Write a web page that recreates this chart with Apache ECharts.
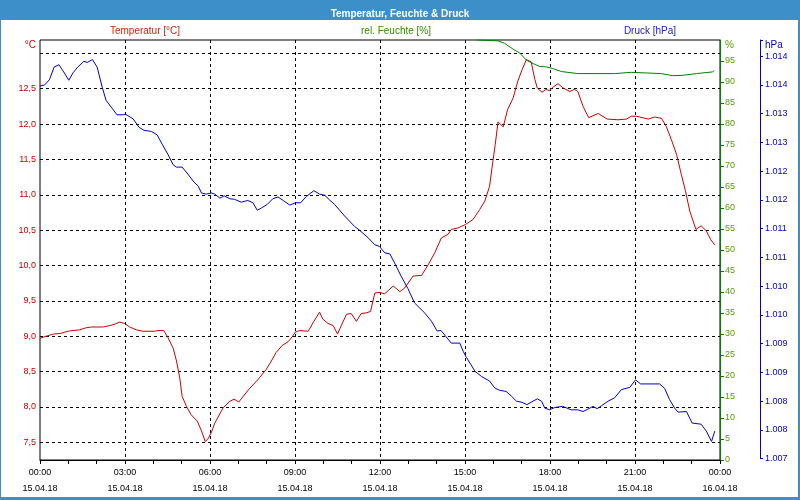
<!DOCTYPE html>
<html><head><meta charset="utf-8">
<script src="https://cdn.jsdelivr.net/npm/echarts@6/dist/echarts.min.js"></script>
<style>html,body{margin:0;padding:0;background:#fff}#c{width:800px;height:500px}</style>
</head><body><div id="c"></div><script>
const FONT = '"Liberation Sans", Arial, sans-serif';

// x axis: minutes since 15.04.18 00:00
const xTickLabels = ['00:00\n15.04.18','03:00\n15.04.18','06:00\n15.04.18','09:00\n15.04.18','12:00\n15.04.18','15:00\n15.04.18','18:00\n15.04.18','21:00\n15.04.18','00:00\n16.04.18'];
const tempTicks = [7.5,8.0,8.5,9.0,9.5,10.0,10.5,11.0,11.5,12.0,12.5,13.0];
const pressTicks = [1007,1007.5,1008,1008.5,1009,1009.5,1010,1010.5,1011,1011.5,1012,1012.5,1013,1013.5,1014];

const tempTimes = [0,13,28,44,59,70,84,98,109,133,148,158,169,179,190,204,218,243,250,262,271,282,289,296,301,310,320,333,342,350,357,364,370,388,402,411,421,441,462,479,490,500,513,525,534,541,550,568,580,592,599,610,621,630,638,649,659,670,680,691,700,709,718,730,748,762,772,790,808,822,836,850,864,871,885,901,917,931,942,952,959,964,970,974,981,990,1002,1012,1021,1030,1040,1048,1053,1063,1072,1079,1086,1097,1108,1122,1132,1139,1150,1162,1182,1201,1224,1242,1252,1263,1288,1302,1316,1326,1337,1348,1358,1367,1376,1389,1400,1411,1420,1429];
const tempValues = [8.97,9.00,9.03,9.04,9.07,9.08,9.09,9.12,9.13,9.13,9.15,9.17,9.20,9.18,9.13,9.09,9.07,9.07,9.08,9.08,8.98,8.83,8.65,8.41,8.15,8.01,7.89,7.80,7.66,7.51,7.56,7.66,7.77,7.99,8.08,8.11,8.07,8.24,8.39,8.53,8.65,8.77,8.87,8.92,8.99,9.06,9.08,9.07,9.21,9.34,9.24,9.18,9.15,9.03,9.15,9.31,9.32,9.21,9.32,9.33,9.35,9.61,9.62,9.60,9.71,9.63,9.68,9.85,9.86,10.01,10.18,10.39,10.44,10.51,10.53,10.58,10.65,10.79,10.91,11.12,11.47,11.71,12.03,12.03,11.96,12.20,12.37,12.61,12.77,12.91,12.88,12.63,12.51,12.45,12.49,12.47,12.52,12.57,12.51,12.46,12.49,12.46,12.25,12.09,12.15,12.07,12.06,12.07,12.11,12.11,12.07,12.10,12.08,11.97,11.78,11.57,11.29,11.05,10.77,10.51,10.56,10.49,10.37,10.29];

const humTimes = [926,970,984,1002,1016,1030,1044,1058,1072,1086,1104,1139,1217,1252,1316,1340,1362,1390,1424,1428];
const humValues = [100,99.8,99.2,97.8,96.9,95.2,94.4,93.7,93.6,93.2,92.5,92.0,92.0,92.3,92.0,91.5,91.6,92.0,92.4,92.7];

const pressTimes = [0,10,20,30,40,49,61,70,80,93,100,111,121,132,140,152,163,176,181,197,210,220,236,248,260,271,282,289,301,313,326,335,342,352,363,370,381,390,402,412,426,440,451,460,469,481,493,504,515,529,541,552,564,580,592,603,613,624,645,666,677,695,709,719,730,741,751,765,779,793,804,815,829,841,849,860,871,889,896,903,913,921,935,952,963,973,987,998,1009,1021,1031,1044,1053,1062,1069,1079,1090,1107,1125,1139,1150,1160,1171,1180,1189,1203,1217,1231,1249,1261,1272,1312,1323,1333,1344,1351,1369,1381,1400,1411,1422,1429];
const pressValues = [1013.48,1013.50,1013.59,1013.81,1013.85,1013.74,1013.58,1013.71,1013.81,1013.91,1013.89,1013.94,1013.81,1013.45,1013.23,1013.10,1012.98,1012.98,1012.99,1012.91,1012.76,1012.71,1012.69,1012.63,1012.45,1012.29,1012.11,1012.07,1012.07,1011.95,1011.81,1011.74,1011.62,1011.60,1011.62,1011.60,1011.53,1011.57,1011.52,1011.51,1011.46,1011.49,1011.45,1011.32,1011.36,1011.42,1011.52,1011.55,1011.49,1011.41,1011.45,1011.45,1011.56,1011.66,1011.60,1011.58,1011.50,1011.42,1011.22,1011.04,1010.97,1010.84,1010.72,1010.69,1010.58,1010.56,1010.40,1010.17,1009.96,1009.71,1009.62,1009.53,1009.39,1009.22,1009.23,1009.12,1009.01,1009.01,1008.87,1008.76,1008.63,1008.52,1008.43,1008.35,1008.23,1008.19,1008.17,1008.09,1008.00,1007.98,1007.94,1008.00,1008.04,1008.00,1007.88,1007.85,1007.89,1007.91,1007.85,1007.85,1007.82,1007.86,1007.91,1007.87,1007.92,1008.00,1008.06,1008.20,1008.24,1008.37,1008.30,1008.30,1008.22,1008.03,1007.88,1007.81,1007.82,1007.62,1007.60,1007.48,1007.30,1007.48];

const zip = (a, b) => a.slice(0, Math.min(a.length, b.length)).map((t, i) => [t, b[i]]);
const isPressTick = v => pressTicks.some(t => Math.abs(t - v) < 1e-6);

const BLUE_FRAME = '#3c8fc8';
const RED = '#cc0000', GREEN = '#008000', BLUE = '#0000cc';

const chart = echarts.init(document.getElementById('c'), null, {renderer: 'canvas'});
chart.setOption({
  animation: false,
  backgroundColor: '#ffffff',
  title: {
    text: 'Temperatur, Feuchte & Druck', left: 'center', top: 4,
    textStyle: {color: '#ffffff', fontSize: 10, fontWeight: 'bold', fontFamily: FONT}
  },
  graphic: [
    {type: 'rect', z: -10, shape: {x: 0, y: 0, width: 800, height: 20}, style: {fill: BLUE_FRAME}},
    {type: 'rect', z: 100, shape: {x: 0, y: 0, width: 1, height: 500}, style: {fill: BLUE_FRAME}},
    {type: 'rect', z: 100, shape: {x: 798, y: 0, width: 2, height: 500}, style: {fill: BLUE_FRAME}},
    {type: 'rect', z: 100, shape: {x: 0, y: 497, width: 800, height: 3}, style: {fill: BLUE_FRAME}},
    {type: 'text', x: 145, y: 31, style: {text: 'Temperatur [°C]', align: 'center', verticalAlign: 'middle', font: '10px ' + FONT, fill: '#c8260f'}},
    {type: 'text', x: 396, y: 31, style: {text: 'rel. Feuchte [%]', align: 'center', verticalAlign: 'middle', font: '10px ' + FONT, fill: '#2f8a00'}},
    {type: 'text', x: 650, y: 31, style: {text: 'Druck [hPa]', align: 'center', verticalAlign: 'middle', font: '10px ' + FONT, fill: '#2020c0'}},
    {type: 'text', x: 36, y: 45, style: {text: '°C', align: 'right', verticalAlign: 'middle', font: '10px ' + FONT, fill: RED}},
    {type: 'text', x: 725, y: 45, style: {text: '%', align: 'left', verticalAlign: 'middle', font: '10px ' + FONT, fill: '#5a9a00'}},
    {type: 'text', x: 765, y: 45, style: {text: 'hPa', align: 'left', verticalAlign: 'middle', font: '10px ' + FONT, fill: BLUE}}
  ],
  grid: [
    {left: 40, right: 80, top: 40, bottom: 40, show: true, borderColor: '#000', borderWidth: 1, backgroundColor: 'transparent'},
    {left: 40, right: 80, top: 53.3, bottom: 57.7},
    {left: 40, right: 80, top: 40, bottom: 41.3}
  ],
  xAxis: [
    {
      gridIndex: 0, type: 'value', min: 0, max: 1440, interval: 180, position: 'bottom',
      axisLine: {show: true, onZero: false, lineStyle: {color: '#000', width: 1}},
      axisTick: {show: true, length: 4, lineStyle: {color: '#000'}},
      minorTick: {show: true, splitNumber: 3, length: 4, lineStyle: {color: '#000'}},
      axisLabel: {formatter: v => xTickLabels[Math.round(v / 180)] || '', color: '#000', fontSize: 9, lineHeight: 16, margin: 5, fontFamily: FONT},
      splitLine: {show: true, showMinLine: false, showMaxLine: false, lineStyle: {color: '#000', type: [3, 3], width: 1}}
    },
    {gridIndex: 1, type: 'value', min: 0, max: 1440, show: false, axisLine: {onZero: false}},
    {gridIndex: 2, type: 'value', min: 0, max: 1440, show: false, axisLine: {onZero: false}}
  ],
  yAxis: [
    {
      gridIndex: 0, type: 'value', position: 'right', min: 0, max: 100, interval: 5,
      axisLine: {show: true, onZero: false, lineStyle: {color: GREEN, width: 1}},
      axisTick: {show: true, length: 4, lineStyle: {color: GREEN}},
      axisLabel: {color: '#5a9a00', fontSize: 9, margin: 5, fontFamily: FONT, showMaxLabel: false},
      splitLine: {show: false}
    },
    {
      gridIndex: 1, type: 'value', position: 'left', min: tempTicks[0], max: tempTicks[tempTicks.length - 1], interval: 0.5,
      axisLine: {show: false, onZero: false}, axisTick: {show: false},
      axisLabel: {formatter: v => v.toFixed(1).replace('.', ','), color: RED, fontSize: 9, margin: 4, fontFamily: FONT, showMaxLabel: false},
      splitLine: {show: true, lineStyle: {color: '#000', type: [3, 3], width: 1}}
    },
    {
      gridIndex: 2, type: 'value', position: 'right', offset: 40, min: pressTicks[0], max: 1014.28, interval: 0.5,
      axisLine: {show: true, onZero: false, lineStyle: {color: BLUE, width: 1}},
      axisTick: {show: true, length: 3, lineStyle: {color: BLUE}},
      axisLabel: {formatter: v => isPressTick(v) ? '1.' + String(Math.round(v) - 1000).padStart(3, '0') : '', color: BLUE, fontSize: 9, margin: 5, fontFamily: FONT},
      splitLine: {show: false}
    }
  ],
  series: [
    {type: 'line', name: 'Temperatur', xAxisIndex: 1, yAxisIndex: 1, data: zip(tempTimes, tempValues), showSymbol: false, symbol: 'none', lineStyle: {color: RED, width: 1}, z: 3},
    {type: 'line', name: 'Feuchte', xAxisIndex: 0, yAxisIndex: 0, data: zip(humTimes, humValues), showSymbol: false, symbol: 'none', lineStyle: {color: GREEN, width: 1}, z: 3},
    {type: 'line', name: 'Druck', xAxisIndex: 2, yAxisIndex: 2, data: zip(pressTimes, pressValues), showSymbol: false, symbol: 'none', lineStyle: {color: BLUE, width: 1}, z: 3}
  ]
});
</script></body></html>
